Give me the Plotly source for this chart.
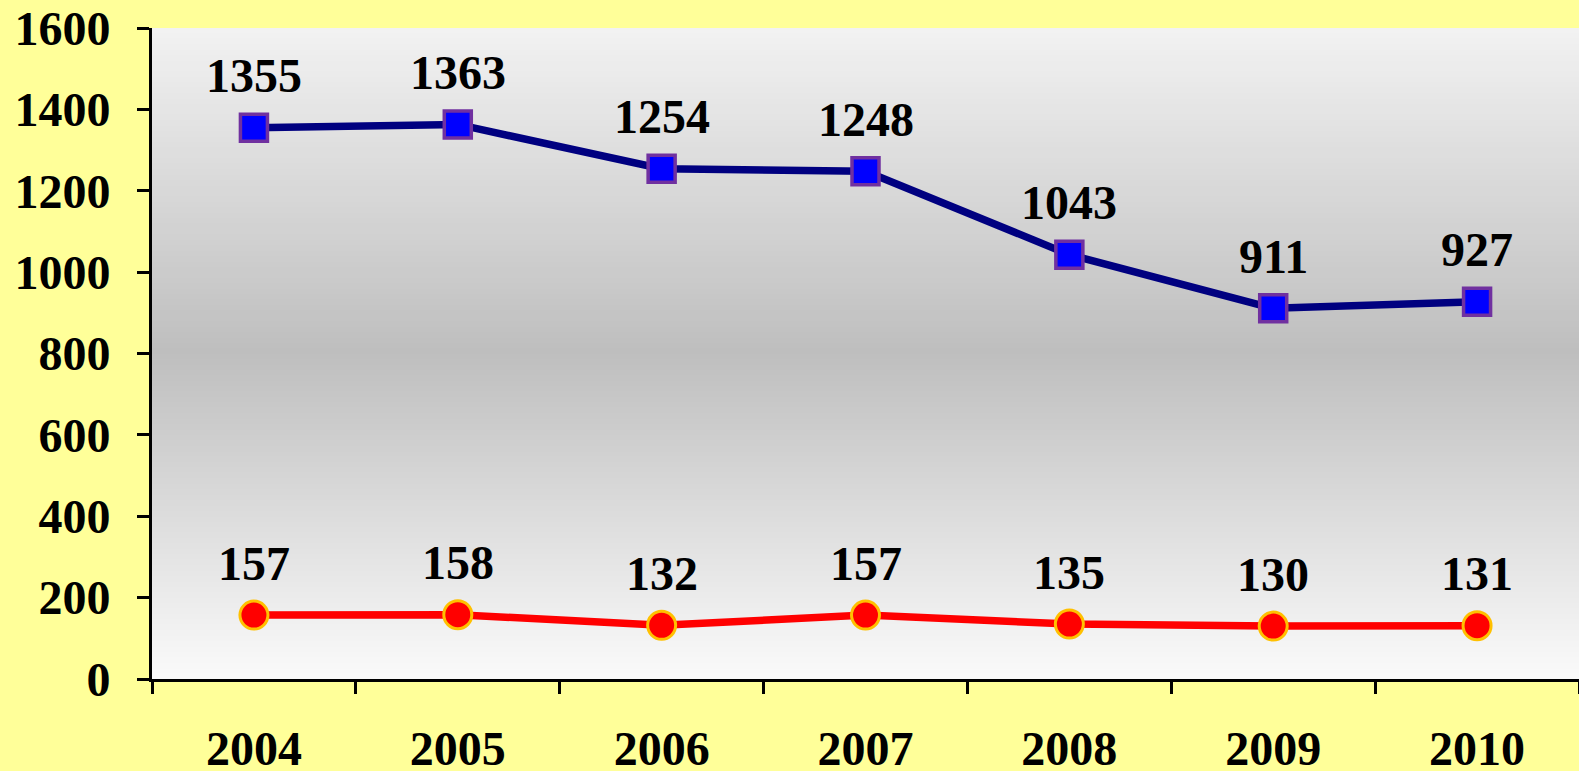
import plotly.graph_objects as go

years = ["2004", "2005", "2006", "2007", "2008", "2009", "2010"]
series_top = [1355, 1363, 1254, 1248, 1043, 911, 927]
series_bottom = [157, 158, 132, 157, 135, 130, 131]
y_ticks = [0, 200, 400, 600, 800, 1000, 1200, 1400, 1600]

FONT = "Liberation Serif"
FS = 48
fig = go.Figure()

fig.add_trace(go.Scatter(
    x=years, y=series_top, mode="lines+markers",
    line=dict(color="#000080", width=7.5),
    marker=dict(symbol="square", size=27, color="#0000FF",
                line=dict(color="#7030A0", width=3.5)),
    hoverinfo="skip", showlegend=False))
fig.add_trace(go.Scatter(
    x=years, y=series_bottom, mode="lines+markers",
    line=dict(color="#FF0000", width=7.5),
    marker=dict(symbol="circle", size=28, color="#FF0000",
                line=dict(color="#FFC000", width=3)),
    hoverinfo="skip", showlegend=False))

# data labels; on a category axis annotations take the category's serial index
for series in (series_top, series_bottom):
    for idx, v in enumerate(series):
        fig.add_annotation(x=idx, y=v, xref="x", yref="y", text=str(v),
                           showarrow=False, yshift=52, yanchor="middle",
                           font=dict(family=FONT, size=FS, color="black", weight="bold"))

# vertical gradient plot background (top light, mid grey, bottom near white)
def lerp(a, b, t):
    return int(round(a + (b - a) * t))

n = 120
top_c, mid_c, bot_c = 242, 190, 251
for i in range(n):
    f0 = i / n
    f1 = (i + 1) / n
    fc = (f0 + f1) / 2  # fraction from bottom
    if fc < 0.5:
        g = lerp(bot_c, mid_c, fc / 0.5)
    else:
        g = lerp(mid_c, top_c, (fc - 0.5) / 0.5)
    fig.add_shape(type="rect", xref="paper", yref="paper", x0=0, x1=1,
                  y0=f0, y1=min(1, f1 + 0.002), fillcolor=f"rgb({g},{g},{g})",
                  line=dict(width=0), layer="below")

fig.update_layout(
    width=1579, height=771,
    paper_bgcolor="#FFFF99", plot_bgcolor="#F0F0F0",
    margin=dict(l=152, r=0, t=28, b=92, autoexpand=False),
    font=dict(family=FONT, size=FS, color="black"),
    xaxis=dict(type="category", showline=True, linecolor="black", linewidth=3,
               ticks="outside", ticklen=12, tickwidth=3, tickcolor="black",
               tickson="boundaries", showgrid=False, zeroline=False, automargin=False,
               tickfont=dict(family=FONT, size=FS, color="black", weight="bold"),
               ticklabelstandoff=25, range=[-0.5, 6.5]),
    yaxis=dict(range=[0, 1600], tickvals=y_ticks, ticktext=[str(t) for t in y_ticks],
               showline=True, linecolor="black", linewidth=3,
               ticks="outside", ticklen=12, tickwidth=3, tickcolor="black",
               showgrid=False, zeroline=False, automargin=False,
               tickfont=dict(family=FONT, size=FS, color="black", weight="bold"),
               ticklabelstandoff=17),
)

fig.write_html("out.html", config={"displayModeBar": False},
               post_script="document.body.style.margin='0';document.body.style.overflow='hidden';")
